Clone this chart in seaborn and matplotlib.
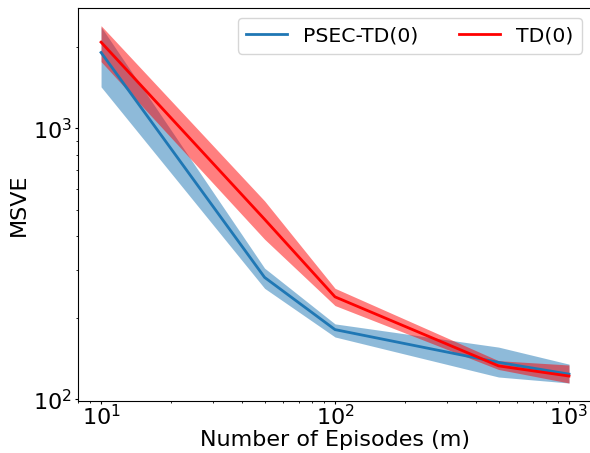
import numpy as np
import pandas as pd
import matplotlib
matplotlib.use("Agg")
import matplotlib.pyplot as plt
import seaborn as sns

episodes = [10, 50, 100, 500, 1000]

psec_mean = [1905, 282, 181, 137, 124]
psec_low = [1423, 257, 170, 121, 115]
psec_high = [2370, 305, 190, 156, 135]

td_mean = [2080, 462, 239, 133, 122]
td_low = [1763, 390, 222, 129, 115]
td_high = [2393, 540, 257, 139, 134]

labels = ["PSEC-TD(0)", "TD(0)"]
colors = ["#1f77b4", "red"]

df = pd.DataFrame({
    "m": episodes * 2,
    "msve": psec_mean + td_mean,
    "method": [labels[0]] * len(episodes) + [labels[1]] * len(episodes),
})

fig = plt.figure(figsize=(5.9, 4.53), dpi=100)
ax = fig.add_axes([78 / 590, (453 - 401) / 453, (592 - 78) / 590, (401 - 8) / 453])

ax.fill_between(episodes, psec_low, psec_high, color=colors[0], alpha=0.5, linewidth=0)
ax.fill_between(episodes, td_low, td_high, color=colors[1], alpha=0.5, linewidth=0)

sns.lineplot(data=df, x="m", y="msve", hue="method", palette=colors,
             linewidth=2, ax=ax, errorbar=None)

ax.set_xscale("log")
ax.set_yscale("log")
ax.set_xlim(7.97, 1254)
ax.set_ylim(98.7, 2780)
ax.set_xlabel("Number of Episodes (m)", fontsize=16, labelpad=1)
ax.set_ylabel("MSVE", fontsize=16, labelpad=3)
ax.tick_params(axis="both", which="major", labelsize=16, length=2.5)
ax.tick_params(axis="x", which="major", pad=-0.5)
ax.tick_params(axis="y", which="major", pad=2)
ax.tick_params(axis="both", which="minor", length=1.5)
ax.legend(loc="upper right", ncol=2, fontsize=14.7, title=None)

fig.savefig("out.png", dpi=100)
